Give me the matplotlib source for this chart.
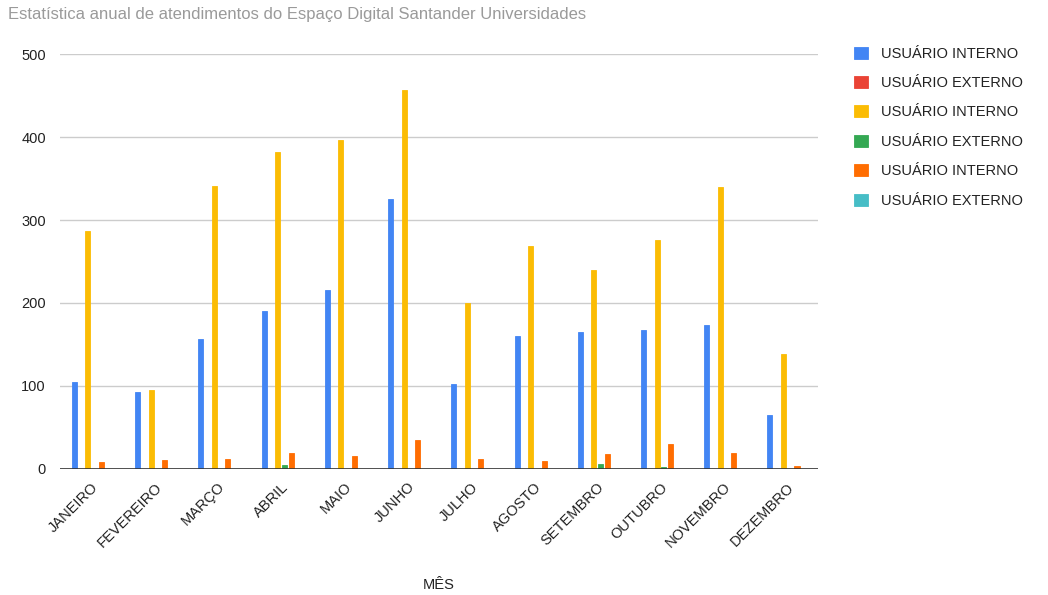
import numpy as np
import matplotlib.pyplot as plt

plt.rcParams['font.family'] = ['Liberation Sans', 'DejaVu Sans']

meses = ['JANEIRO', 'FEVEREIRO', 'MARÇO', 'ABRIL', 'MAIO', 'JUNHO',
         'JULHO', 'AGOSTO', 'SETEMBRO', 'OUTUBRO', 'NOVEMBRO', 'DEZEMBRO']

interno_1 = [105, 93, 157, 190, 216, 325, 102, 160, 165, 167, 173, 65]
externo_1 = [0, 0, 0, 0, 0, 0, 0, 0, 0, 0, 0, 0]
interno_2 = [287, 95, 341, 382, 396, 457, 200, 269, 240, 276, 340, 139]
externo_2 = [0, 0, 0, 5, 0, 0, 0, 0, 6, 2, 0, 0]
interno_3 = [8, 11, 12, 19, 16, 35, 12, 10, 18, 30, 19, 3]
externo_3 = [0, 0, 0, 0, 0, 0, 0, 0, 0, 0, 0, 0]

series = [interno_1, externo_1, interno_2, externo_2, interno_3, externo_3]
nomes = ['USUÁRIO INTERNO', 'USUÁRIO EXTERNO'] * 3
cores = ['#4285f4', '#ea4335', '#fbbc04', '#34a853', '#ff6d01', '#46bdc6']

fig = plt.figure(figsize=(10.48, 5.95), dpi=100)
ax = fig.add_axes([0.057, 0.212, 0.724, 0.697])

x = np.arange(len(meses))
passo = 0.107
largura = 0.08
for i, (vals, nome, cor) in enumerate(zip(series, nomes, cores)):
    ax.bar(x + (i - 2.5) * passo, vals, largura, color=cor, label=nome,
           edgecolor=cor, linewidth=0.6, zorder=3)

ax.set_xlim(-0.5, len(meses) - 0.5)
ax.set_ylim(0, 500)
ax.set_yticks(range(0, 501, 100))
ax.yaxis.grid(True, color='#cccccc', linewidth=1, zorder=0)
ax.axhline(0, color='#333333', linewidth=1.2, zorder=4)
for s in ax.spines.values():
    s.set_visible(False)
ax.tick_params(length=0, labelsize=10.5, colors='#222222')
ax.tick_params(axis='y', pad=10)
ax.tick_params(axis='x', pad=8)
ax.set_xticks(x)
ax.set_xticklabels(meses, rotation=45, ha='right', rotation_mode='anchor')
ax.set_xlabel('MÊS', fontsize=10.5, color='#222222', labelpad=20)

fig.text(0.008, 0.988, 'Estatística anual de atendimentos do Espaço Digital Santander Universidades',
         fontsize=12, color='#9a9a9a', va='top')

leg = ax.legend(loc='upper left', bbox_to_anchor=(1.03, 1.05), frameon=False,
                fontsize=10.5, handlelength=0.9, handleheight=0.9,
                labelspacing=1.05, handletextpad=0.9)
for t in leg.get_texts():
    t.set_color('#222222')

plt.savefig('out.png')
